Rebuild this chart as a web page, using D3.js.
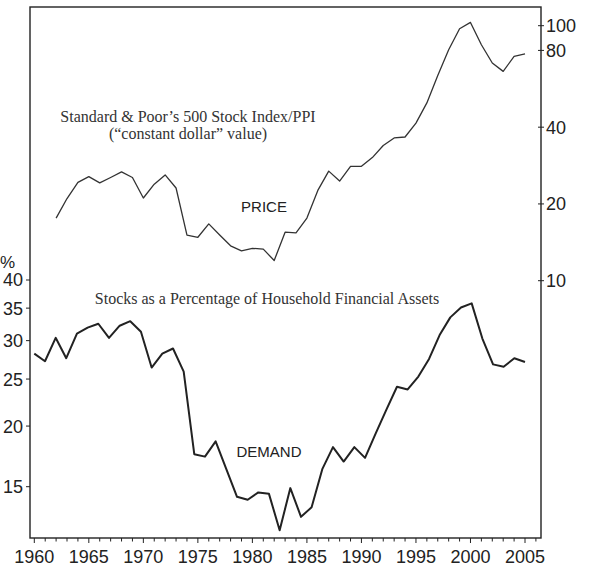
<!DOCTYPE html>
<html>
<head>
<meta charset="utf-8">
<script src="https://cdn.jsdelivr.net/npm/d3@7"></script>
<style>
  body { margin: 0; background: #fff; }
  svg { display: block; }
</style>
</head>
<body>
<script>
// S&P 500 / PPI, constant dollar value (right axis, log)
var priceYears = d3.range(1962, 2006);
var priceValues = [17.6, 21.0, 24.3, 25.6, 24.2, 25.4, 26.7, 25.4, 21.1, 23.9,
  26.0, 23.1, 15.1, 14.8, 16.7, 15.1, 13.7, 13.1, 13.4, 13.3,
  12.0, 15.5, 15.4, 17.6, 22.6, 26.9, 24.6, 28.1, 28.1, 30.4,
  33.9, 36.3, 36.6, 41.5, 49.8, 63.8, 80.5, 97.3, 103, 84.2,
  71.4, 66.2, 75.8, 77.5];

// stocks as % of household financial assets (left axis, log)
var demandYears = [1960.00, 1960.98, 1961.96, 1962.93, 1963.91, 1964.89, 1965.87, 1966.85,
  1967.83, 1968.80, 1969.78, 1970.76, 1971.74, 1972.72, 1973.70, 1974.67,
  1975.65, 1976.63, 1977.61, 1978.59, 1979.57, 1980.54, 1981.52, 1982.50,
  1983.48, 1984.46, 1985.43, 1986.41, 1987.39, 1988.37, 1989.35, 1990.33,
  1991.30, 1992.28, 1993.26, 1994.24, 1995.22, 1996.20, 1997.17, 1998.15,
  1999.13, 2000.11, 2001.09, 2002.07, 2003.04, 2004.02, 2005.00];
var demandValues = [28.2, 27.2, 30.4, 27.6, 31.0, 31.9, 32.5, 30.4, 32.2, 32.9,
  31.3, 26.4, 28.2, 28.9, 25.9, 17.5, 17.3, 18.6, 16.3, 14.3,
  14.1, 14.6, 14.5, 12.2, 14.9, 13.0, 13.6, 16.3, 18.1, 16.9,
  18.1, 17.2, 19.3, 21.6, 24.1, 23.8, 25.3, 27.5, 30.8, 33.5,
  35.1, 35.8, 30.3, 26.8, 26.5, 27.6, 27.1];

var yearTicks = [1960, 1965, 1970, 1975, 1980, 1985, 1990, 1995, 2000, 2005];
var minorYearTicks = d3.range(1960, 2007);
var priceTicks = [10, 20, 40, 80, 100];
var demandTicks = [15, 20, 25, 30, 35, 40];

var W = 590, H = 567;
var frame = { left: 30, right: 541, top: 7, bottom: 538 };
var sans = "'Liberation Sans', Arial, Helvetica, sans-serif";
var serif = "'Liberation Serif', 'Times New Roman', serif";

var svg = d3.select("body").append("svg")
  .attr("width", W)
  .attr("height", H);

var x = d3.scaleLinear().domain([1960, 2005]).range([34.3, 525]);
var yPrice = d3.scaleLog().domain([10, 100]).range([280.7, 25.7]);
var yDemand = d3.scaleLog().domain([15, 40]).range([486.7, 280]);

// frame
svg.append("rect")
  .attr("x", frame.left)
  .attr("y", frame.top)
  .attr("width", frame.right - frame.left)
  .attr("height", frame.bottom - frame.top)
  .attr("fill", "none")
  .attr("stroke", "#222")
  .attr("stroke-width", 1.4);

// bottom axis: minor ticks every year, labels every 5
var bottom = svg.append("g")
  .attr("transform", `translate(0, ${frame.bottom})`);
bottom.selectAll("line.minor")
  .data(minorYearTicks)
  .enter().append("line")
  .attr("class", "minor")
  .attr("x1", d => x(d)).attr("x2", d => x(d))
  .attr("y1", 0).attr("y2", d => d % 5 === 0 ? 5 : 3.5)
  .attr("stroke", "#222")
  .attr("stroke-width", 1);
bottom.selectAll("text")
  .data(yearTicks)
  .enter().append("text")
  .attr("x", d => x(d))
  .attr("y", 25)
  .attr("text-anchor", "middle")
  .attr("font-family", sans)
  .attr("font-size", 18)
  .attr("fill", "#222")
  .text(d => d);

// right axis (price)
var right = svg.append("g")
  .attr("transform", `translate(${frame.right}, 0)`);
right.selectAll("line")
  .data(priceTicks)
  .enter().append("line")
  .attr("x1", -3).attr("x2", 3)
  .attr("y1", d => yPrice(d)).attr("y2", d => yPrice(d))
  .attr("stroke", "#222");
right.selectAll("text")
  .data(priceTicks)
  .enter().append("text")
  .attr("x", 5)
  .attr("y", d => yPrice(d))
  .attr("dy", "0.36em")
  .attr("font-family", sans)
  .attr("font-size", 18)
  .attr("fill", "#222")
  .text(d => d);

// left axis (demand)
var left = svg.append("g")
  .attr("transform", `translate(${frame.left}, 0)`);
left.selectAll("line")
  .data(demandTicks)
  .enter().append("line")
  .attr("x1", -4).attr("x2", 0)
  .attr("y1", d => yDemand(d)).attr("y2", d => yDemand(d))
  .attr("stroke", "#222");
left.selectAll("text")
  .data(demandTicks)
  .enter().append("text")
  .attr("x", -7)
  .attr("y", d => yDemand(d))
  .attr("dy", "0.36em")
  .attr("text-anchor", "end")
  .attr("font-family", sans)
  .attr("font-size", 18)
  .attr("fill", "#222")
  .text(d => d);
left.append("text")
  .attr("x", -30)
  .attr("y", yDemand(40) - 12)
  .attr("font-family", sans)
  .attr("font-size", 17)
  .attr("fill", "#222")
  .text("%");

// lines
var priceLine = d3.line()
  .x((d, i) => x(priceYears[i]))
  .y(d => yPrice(d));
svg.append("path")
  .datum(priceValues)
  .attr("fill", "none")
  .attr("stroke", "#333")
  .attr("stroke-width", 1.3)
  .attr("stroke-linejoin", "round")
  .attr("d", priceLine);

var demandLine = d3.line()
  .x((d, i) => x(demandYears[i]))
  .y(d => yDemand(d));
svg.append("path")
  .datum(demandValues)
  .attr("fill", "none")
  .attr("stroke", "#222")
  .attr("stroke-width", 2)
  .attr("stroke-linejoin", "round")
  .attr("d", demandLine);

// annotations
svg.append("text")
  .attr("x", 188).attr("y", 122)
  .attr("text-anchor", "middle")
  .attr("font-family", serif)
  .attr("font-size", 16)
  .attr("fill", "#333")
  .text("Standard & Poor\u2019s 500 Stock Index/PPI");
svg.append("text")
  .attr("x", 188).attr("y", 139)
  .attr("text-anchor", "middle")
  .attr("font-family", serif)
  .attr("font-size", 16)
  .attr("fill", "#333")
  .text("(\u201cconstant dollar\u201d value)");
svg.append("text")
  .attr("x", 264).attr("y", 212)
  .attr("text-anchor", "middle")
  .attr("font-family", sans)
  .attr("font-size", 15)
  .attr("fill", "#222")
  .text("PRICE");
svg.append("text")
  .attr("x", 267).attr("y", 304)
  .attr("text-anchor", "middle")
  .attr("font-family", serif)
  .attr("font-size", 16)
  .attr("fill", "#333")
  .text("Stocks as a Percentage of Household Financial Assets");
svg.append("text")
  .attr("x", 269).attr("y", 457)
  .attr("text-anchor", "middle")
  .attr("font-family", sans)
  .attr("font-size", 15)
  .attr("fill", "#222")
  .text("DEMAND");
</script>
</body>
</html>
